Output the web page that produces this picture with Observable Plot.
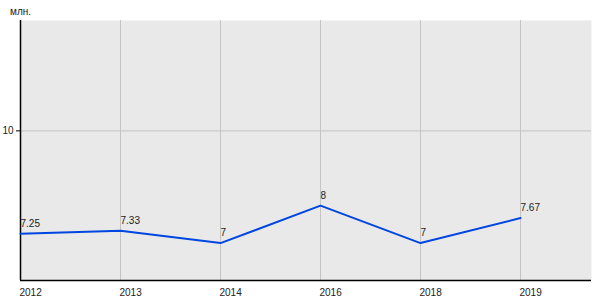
<!DOCTYPE html>
<html><head><meta charset="utf-8">
<script src="https://cdn.jsdelivr.net/npm/d3@7"></script>
<script src="https://cdn.jsdelivr.net/npm/@observablehq/plot@0.6"></script>
<style>
body{margin:0;background:#fff;font-family:"Liberation Sans",Arial,sans-serif;}
#chart{position:relative;width:600px;height:300px;}
#unit{position:absolute;left:10px;top:6px;font-size:10px;color:#222;}
</style>
</head><body>
<div id="chart"><div id="unit">млн.</div></div>
<script>
const years = ["2012","2013","2014","2016","2018","2019"];
const values = [7.25, 7.33, 7, 8, 7, 7.67];
const labels = ["7.25","7.33","7","8","7","7.67"];
const yTicks = [10];

const data = years.map((y, i) => ({i, year: y, value: values[i], label: labels[i]}));
const idx = years.map((_, i) => i);

const plot = Plot.plot({
  width: 600, height: 300,
  marginLeft: 20, marginRight: 9, marginTop: 20, marginBottom: 20,
  style: {fontFamily: '"Liberation Sans", Arial, sans-serif', fontSize: "10px", background: "transparent"},
  x: {type: "linear", domain: [0, 5.71], axis: null},
  y: {domain: [6, 12.95], axis: null},
  marks: [
    Plot.frame({fill: "#e9e9e9", stroke: null}),
    Plot.ruleX(idx.slice(1), {stroke: "#c4c4c4", strokeWidth: 1}),
    Plot.ruleY(yTicks, {stroke: "#c4c4c4", strokeWidth: 1}),
    Plot.axisX(idx, {tickFormat: i => years[i], tickSize: 0, tickPadding: 8, textAnchor: "start", fill: "#222", dx: -1, label: null}),
    Plot.axisY(yTicks, {tickSize: 4, tickPadding: 3, fill: "#222", label: null}),
    Plot.ruleX([0], {stroke: "#000", strokeWidth: 1.5}),
    Plot.ruleY([6], {stroke: "#000", strokeWidth: 1.5}),
    Plot.line(data, {x: "i", y: "value", stroke: "#0046e0", strokeWidth: 2}),
    Plot.text(data, {x: "i", y: "value", text: "label", textAnchor: "start", dy: -10, fill: "#222"})
  ]
});
document.getElementById("chart").appendChild(plot);
plot.style.position = "absolute";
plot.style.left = "0";
plot.style.top = "0";
</script>
</body></html>
